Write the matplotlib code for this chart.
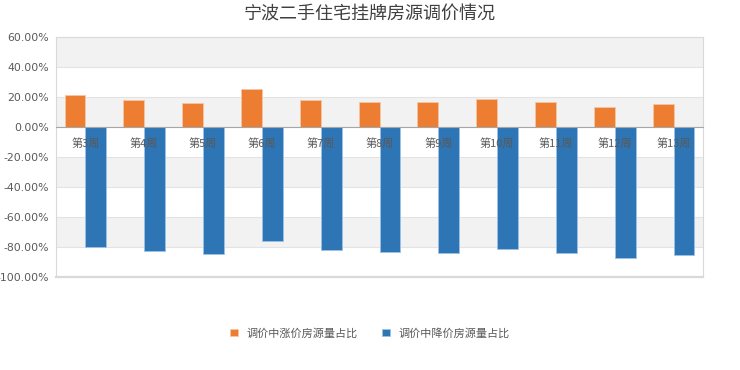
import matplotlib
matplotlib.use("Agg")
import matplotlib.pyplot as plt
import numpy as np

plt.rcParams['font.family'] = ['Noto Sans CJK SC', 'DejaVu Sans']

# --- data ---
weeks = ["第3周", "第4周", "第5周", "第6周", "第7周", "第8周",
         "第9周", "第10周", "第11周", "第12周", "第13周"]
up_share = [21.3, 18.2, 15.8, 25.1, 18.2, 16.9, 16.9, 18.9, 16.4, 13.3, 15.1]
down_share = [-79.8, -82.9, -84.7, -76.2, -82.2, -83.6, -84.2, -81.6, -84.2, -87.1, -85.5]
y_ticks = [60, 40, 20, 0, -20, -40, -60, -80, -100]

orange = "#ED7D31"
blue = "#2E75B6"
grey_text = "#595959"


def main():
    fig = plt.figure(figsize=(7.4, 3.7), dpi=100)
    ax = fig.add_axes([0.0757, 0.2514, 0.8743, 0.6486])

    x = np.arange(len(weeks))
    w = 0.355

    # alternating background bands like the Excel chart
    for lo in range(-100, 60, 20):
        if (lo // 20) % 2 == 0:
            ax.axhspan(lo, lo + 20, color="#f2f2f2", zorder=0, lw=0)
    for t in y_ticks[1:-1]:
        ax.axhline(t, color="#e3e3e3", lw=0.8, zorder=0.5)

    ax.bar(x - w / 2, up_share, w, color=orange, edgecolor="#f6c7a6",
           linewidth=0.6, label="调价中涨价房源量占比", zorder=2)
    ax.bar(x + w / 2, down_share, w, color=blue, edgecolor="#9cc2e5",
           linewidth=0.6, label="调价中降价房源量占比", zorder=2)

    ax.set_xlim(-0.5, len(weeks) - 0.5)
    ax.set_ylim(-100, 60)
    ax.set_yticks(y_ticks)
    ax.set_yticklabels([f"{t:.2f}%" for t in y_ticks], fontsize=7.8,
                       color=grey_text, family=['DejaVu Sans'])

    # category axis sits at zero, labels drawn over the bars
    ax.spines['bottom'].set_position(('data', 0))
    ax.spines['bottom'].set_color("#a6a6a6")
    ax.spines['bottom'].set_zorder(3)
    for s in ['top', 'left', 'right']:
        ax.spines[s].set_color("#d9d9d9")
    ax.axhline(-100, color="#d9d9d9", lw=1.6, zorder=3, clip_on=False)

    ax.set_xticks(x)
    ax.set_xticklabels(weeks, fontsize=8, color=grey_text)
    ax.xaxis.set_zorder(5)
    ax.tick_params(axis='x', length=0, pad=8)
    ax.tick_params(axis='y', length=0, pad=5)

    fig.suptitle("宁波二手住宅挂牌房源调价情况", fontsize=13, color="#404040",
                 x=0.5, y=0.985)

    leg = fig.legend(loc='center', bbox_to_anchor=(0.5, 0.1), ncol=2,
                     frameon=False, fontsize=8, handlelength=0.7,
                     handleheight=0.7, columnspacing=2.2, handletextpad=0.8)
    for t in leg.get_texts():
        t.set_color(grey_text)

    fig.savefig("out.png", dpi=100)


if __name__ == "__main__":
    main()
